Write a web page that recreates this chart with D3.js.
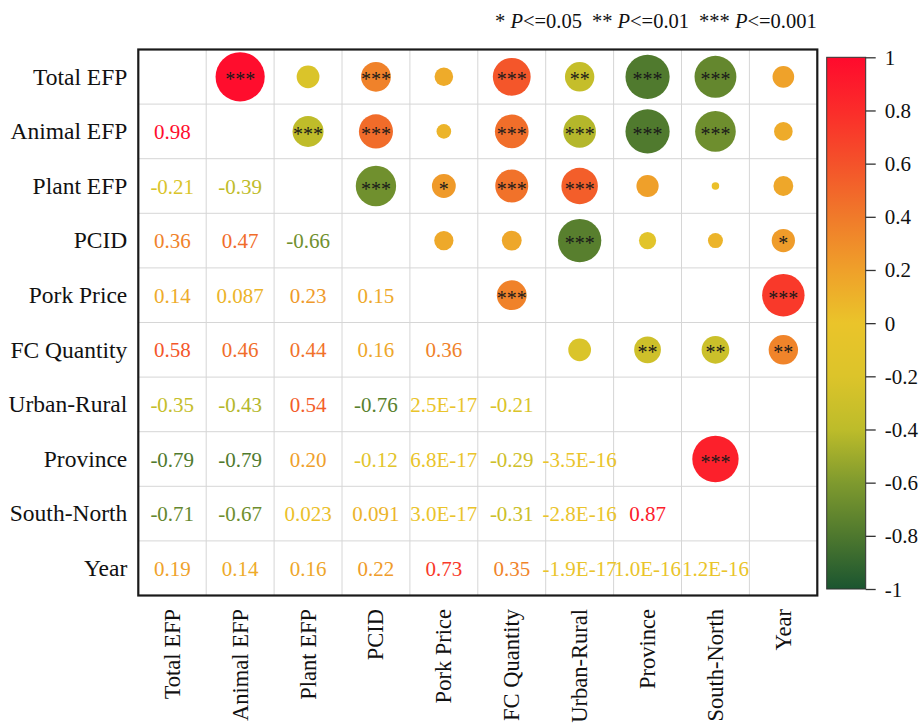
<!DOCTYPE html>
<html>
<head>
<meta charset="utf-8">
<script src="https://cdn.jsdelivr.net/npm/d3@7"></script>
<style>
  html, body { margin: 0; padding: 0; background: #fff; }
  svg { display: block; }
  text { font-family: "Liberation Serif", "Times New Roman", serif; }
</style>
</head>
<body>
<svg id="chart" width="919" height="723"></svg>
<script>
// Variables of the correlation matrix
const variables = ["Total EFP", "Animal EFP", "Plant EFP", "PCID", "Pork Price",
  "FC Quantity", "Urban-Rural", "Province", "South-North", "Year"];

// Lower-triangle correlation coefficients (row i, columns 0..i-1)
const corrRows = [
  [],
  [0.98],
  [-0.21, -0.39],
  [0.36, 0.47, -0.66],
  [0.14, 0.087, 0.23, 0.15],
  [0.58, 0.46, 0.44, 0.16, 0.36],
  [-0.35, -0.43, 0.54, -0.76, 2.5e-17, -0.21],
  [-0.79, -0.79, 0.20, -0.12, 6.8e-17, -0.29, -3.5e-16],
  [-0.71, -0.67, 0.023, 0.091, 3.0e-17, -0.31, -2.8e-16, 0.87],
  [0.19, 0.14, 0.16, 0.22, 0.73, 0.35, -1.9e-17, 1.0e-16, 1.2e-16]
];

// Significance markers for the same pairs
const sigRows = [
  [],
  ["***"],
  ["", "***"],
  ["***", "***", "***"],
  ["", "", "*", ""],
  ["***", "***", "***", "", "***"],
  ["**", "***", "***", "***", "", ""],
  ["***", "***", "", "", "", "**", ""],
  ["***", "***", "", "", "", "**", "", "***"],
  ["", "", "", "*", "***", "**", "", "", ""]
];

// Colour bar ticks
const colorTicks = [1, 0.8, 0.6, 0.4, 0.2, 0, -0.2, -0.4, -0.6, -0.8, -1];

// Colour ramp stops from -1 (green) through 0 (yellow) to 1 (red)
const rampValues = [-1, -0.8, -0.6, -0.4, -0.2, 0, 0.2, 0.4, 0.6, 0.8, 1];
const rampColors = ["#1b5530", "#4e782e", "#7f9a2e", "#bdbc2a", "#dcc42a", "#eac42a",
  "#efa02a", "#f07a2a", "#f4522a", "#fb2c2a", "#ff0a2d"];

const legendParts = [
  { t: "* ", i: false }, { t: "P", i: true }, { t: "<=0.05", i: false },
  { t: "** ", i: false, gap: true }, { t: "P", i: true }, { t: "<=0.01", i: false },
  { t: "*** ", i: false, gap: true }, { t: "P", i: true }, { t: "<=0.001", i: false }
];

const svg = d3.select("#chart");
const plot = { left: 138.3, right: 817.3, top: 49.5, bottom: 595.5 };

const x = d3.scaleBand().domain(variables).range([plot.left, plot.right]);
const y = d3.scaleBand().domain(variables).range([plot.top, plot.bottom]);
const color = d3.scaleLinear().domain(rampValues).range(rampColors).interpolate(d3.interpolateRgb);
const radius = d3.scaleSqrt().domain([0, 1]).range([0, y.bandwidth() * 0.455]);

// Flatten matrix into cells
const cells = [];
corrRows.forEach((row, i) => row.forEach((v, j) => {
  cells.push({ row: variables[i], col: variables[j], value: v, sig: sigRows[i][j] });
}));
const fmt = v => v.toPrecision(2).toUpperCase();

// Grid lines
const grid = svg.append("g");
variables.forEach((v, k) => {
  if (k === 0) return;
  grid.append("line").attr("x1", x(v)).attr("x2", x(v))
    .attr("y1", plot.top).attr("y2", plot.bottom)
    .attr("stroke", "#d6d6d6").attr("stroke-width", 1);
  grid.append("line").attr("y1", y(v)).attr("y2", y(v))
    .attr("x1", plot.left).attr("x2", plot.right)
    .attr("stroke", "#d6d6d6").attr("stroke-width", 1);
});

// Lower triangle: coefficient text
svg.append("g").selectAll("text").data(cells).join("text")
  .attr("x", d => x(d.col) + x.bandwidth() / 2)
  .attr("y", d => y(d.row) + y.bandwidth() / 2 + 7.5)
  .attr("text-anchor", "middle")
  .attr("font-size", 21)
  .attr("fill", d => color(d.value))
  .text(d => fmt(d.value));

// Upper triangle: circles sized by |r|
const up = svg.append("g");
up.selectAll("circle").data(cells).join("circle")
  .attr("cx", d => x(d.row) + x.bandwidth() / 2)
  .attr("cy", d => y(d.col) + y.bandwidth() / 2)
  .attr("r", d => radius(Math.abs(d.value)))
  .attr("fill", d => color(d.value));
up.selectAll("text").data(cells.filter(d => d.sig)).join("text")
  .attr("x", d => x(d.row) + x.bandwidth() / 2)
  .attr("y", d => y(d.col) + y.bandwidth() / 2 + 9.5)
  .attr("text-anchor", "middle")
  .attr("font-size", 20)
  .attr("fill", "#1a1a1a")
  .text(d => d.sig);

// Frame
svg.append("rect")
  .attr("x", plot.left).attr("y", plot.top)
  .attr("width", plot.right - plot.left).attr("height", plot.bottom - plot.top)
  .attr("fill", "none").attr("stroke", "#1a1a1a").attr("stroke-width", 2.2);

// Row labels
const yAxis = svg.append("g")
  .attr("transform", `translate(${plot.left},0)`)
  .call(d3.axisLeft(y).tickSize(0).tickPadding(11));
yAxis.select(".domain").remove();
yAxis.selectAll("text")
  .attr("font-size", 23.5).attr("fill", "#111")
  .attr("font-family", "Liberation Serif, serif")
  .attr("dy", null).attr("y", 7.8);

// Column labels (rotated)
const xAxis = svg.append("g")
  .attr("transform", `translate(0,${plot.bottom})`)
  .call(d3.axisBottom(x).tickSize(0));
xAxis.select(".domain").remove();
xAxis.selectAll("text")
  .attr("font-size", 22.5).attr("fill", "#111")
  .attr("font-family", "Liberation Serif, serif")
  .attr("dy", null).attr("y", null)
  .attr("text-anchor", "end")
  .attr("transform", "translate(7.5,13.5) rotate(-90)");

// Colour bar
const bar = { x: 826.7, w: 39, top: 57.3, bottom: 589 };
const cbar = d3.scaleLinear().domain([-1, 1]).range([bar.bottom, bar.top]);
const grad = svg.append("defs").append("linearGradient")
  .attr("id", "ramp").attr("x1", 0).attr("y1", 1).attr("x2", 0).attr("y2", 0);
rampValues.forEach((v, k) => {
  grad.append("stop").attr("offset", (v + 1) / 2).attr("stop-color", rampColors[k]);
});
svg.append("rect")
  .attr("x", bar.x).attr("y", bar.top).attr("width", bar.w).attr("height", bar.bottom - bar.top)
  .attr("fill", "url(#ramp)").attr("stroke", "#333").attr("stroke-width", 1);
const cAxis = svg.append("g")
  .attr("transform", `translate(${bar.x + bar.w},0)`)
  .call(d3.axisRight(cbar).tickValues(colorTicks).tickSize(10).tickPadding(9)
    .tickFormat(d => String(d)));
cAxis.select(".domain").remove();
cAxis.selectAll("line").attr("stroke", "#333").attr("stroke-width", 1.3);
cAxis.selectAll("text")
  .attr("font-size", 21).attr("fill", "#111")
  .attr("font-family", "Liberation Serif, serif")
  .attr("dy", null).attr("y", 7);

// Significance legend
const legend = svg.append("text")
  .attr("x", 495).attr("y", 27.5)
  .attr("font-size", 20.5).attr("fill", "#111");
legendParts.forEach(p => {
  legend.append("tspan")
    .attr("font-style", p.i ? "italic" : "normal")
    .attr("dx", p.gap ? 10 : null)
    .text(p.t);
});
</script>
</body>
</html>
